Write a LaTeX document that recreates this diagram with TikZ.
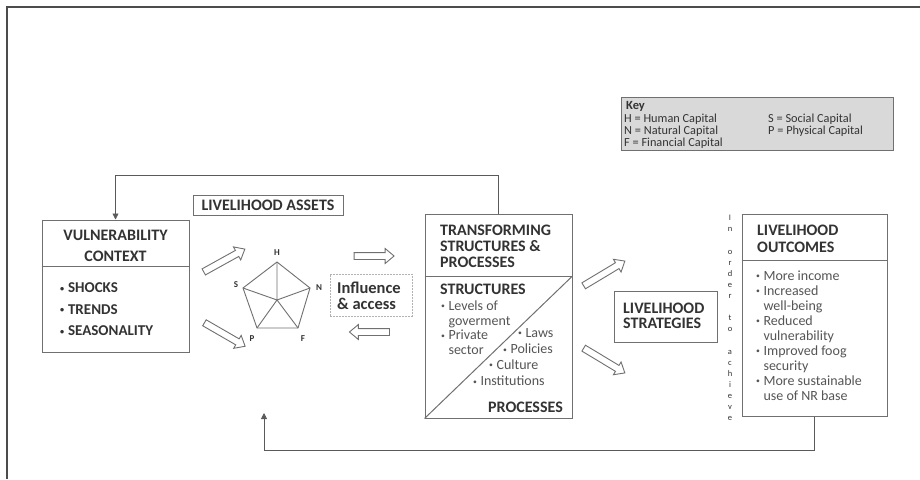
\documentclass[tikz,border=0pt]{standalone}
\usepackage{fontspec}
\usepackage{graphicx}
\setmainfont{Carlito}
\usetikzlibrary{arrows.meta,shapes.arrows,calc}
\definecolor{txt}{HTML}{333333}
\definecolor{txtl}{HTML}{555555}
\definecolor{bd}{HTML}{707070}
\newcommand\mybul{\raisebox{0.12em}{\scalebox{0.55}{•}}\hspace{0.25em}}
\newcommand\mybulsp{\hphantom{\mybul}}
\begin{document}
\begin{tikzpicture}[x=1pt,y=-1pt,
  box/.style={draw=bd, line width=1pt, inner sep=0pt, fill=white},
  ttl/.style={font=\bfseries\fontsize{16}{16}\selectfont, text=txt, inner sep=0pt, align=left},
  body/.style={font=\fontsize{14}{14.7}\selectfont, text=txtl, inner sep=0pt, align=left},
  keytxt/.style={font=\fontsize{12.3}{12}\selectfont, text=txt, inner sep=0pt, anchor=west},
  lbl/.style={font=\bfseries\fontsize{9}{9}\selectfont, text=txt, inner sep=0pt},
  conn/.style={draw=bd!80!black, line width=0.8pt},
  tipend/.style={-{Triangle[length=6pt,width=6pt]}},
  pent/.style={draw=bd, line width=0.9pt},
  hollow/.style={single arrow, draw=bd, line width=0.9pt, fill=white, inner sep=3pt,
     single arrow head extend=4pt, single arrow tip angle=80, minimum height=#1},
 ]
\fill[white] (0,0) rectangle (920,479);
\useasboundingbox (0,0) rectangle (920,479);
% frame
\draw[line width=2pt, black!70] (7,479) -- (7,6.5) -- (920,6.5);

% key
\node[draw=bd, fill=black!15, line width=1pt, minimum width=272pt, minimum height=53pt] (key) at (757,123.5) {};
\node[keytxt, font=\bfseries\fontsize{12.5}{12}\selectfont] (kk) at (626,106) {Key};
\node[keytxt] (k1) at (624,119) {H = Human Capital};
\node[keytxt] (k2) at (624,131) {N = Natural Capital};
\node[keytxt] (k3) at (624,143) {F = Financial Capital};
\node[keytxt] (k4) at (768,119) {S = Social Capital};
\node[keytxt] (k5) at (768,131) {P = Physical Capital};

% vulnerability context
\node[box, minimum width=147pt, minimum height=132pt] (vc) at (115.5,286) {};
\draw[draw=bd, line width=1pt] (vc.west |- 0,266) -- (vc.east |- 0,266);
\node[ttl, align=center, font=\bfseries\fontsize{16}{21}\selectfont] (vct) at (115.5,245.5) {VULNERABILITY\\CONTEXT};
\node[ttl, anchor=west, font=\bfseries\fontsize{15}{21.5}\selectfont] (vcb) at (60,309.5) {\mybul SHOCKS\\\mybul TRENDS\\\mybul SEASONALITY};

% livelihood assets
\node[box, minimum width=150pt, minimum height=20pt] (la) at (268,205) {};
\node[ttl] (lat) at (la.center) {LIVELIHOOD ASSETS};

% pentagon
\coordinate (pH) at (277,262);
\coordinate (pN) at (310,288);
\coordinate (pF) at (298,328);
\coordinate (pP) at (257,328);
\coordinate (pS) at (243,288);
\coordinate (pC) at (277,300);
\draw[pent] (pH) -- (pN) -- (pF) -- (pP) -- (pS) -- cycle;
\draw[pent] (pH) -- (pC) (pN) -- (pC) (pF) -- (pC) (pP) -- (pC) (pS) -- (pC);
\node[lbl] (lH) at (277,253) {H};
\node[lbl] (lN) at (319,288) {N};
\node[lbl] (lF) at (303,339) {F};
\node[lbl] (lP) at (252,339) {P};
\node[lbl] (lS) at (236,285) {S};

% hollow arrows
\node[hollow=47pt, rotate=29] (ha1) at (222.5,261.5) {};
\node[hollow=47pt, rotate=-30] (ha2) at (223,333.5) {};
\node[hollow=40pt] (ha3) at (372,256) {};
\node[hollow=40pt, rotate=180] (ha4) at (371.5,332) {};
\node[hollow=48pt, rotate=31] (ha5) at (602.5,274.5) {};
\node[hollow=48pt, rotate=-31] (ha6) at (602.5,359.5) {};

% influence & access
\node[draw=black!30, line width=0.8pt, dash pattern=on 2pt off 1pt, minimum width=82pt, minimum height=42pt] (ia) at (371,295) {};
\node[ttl, anchor=west, font=\bfseries\fontsize{16.5}{16}\selectfont] (iat) at (337,296) {Influence\\\& access};

% transforming structures & processes
\node[box, minimum width=147pt, minimum height=204pt] (tsp) at (498.5,316) {};
\draw[draw=bd, line width=1pt] (tsp.west |- 0,276) -- (tsp.east |- 0,276);
\draw[draw=bd, line width=1pt] (tsp.south west) -- (tsp.east |- 0,276);
\node[ttl, anchor=west] (tspt) at (440,246.5) {TRANSFORMING\\STRUCTURES \&\\PROCESSES};
\node[ttl, anchor=west] (st) at (440,289) {STRUCTURES};
\node[body, anchor=north west] (sl) at (441,300.5) {\mybul Levels of\\\mybulsp goverment\\\mybul Private\\\mybulsp sector};
\node[body, anchor=west] (p1) at (518,333) {\mybul Laws};
\node[body, anchor=west] (p2) at (503,349) {\mybul Policies};
\node[body, anchor=west] (p3) at (489,364.5) {\mybul Culture};
\node[body, anchor=west] (p4) at (473,381) {\mybul Institutions};
\node[ttl, anchor=east] (pr) at (563,407) {PROCESSES};

% livelihood strategies
\node[box, minimum width=103pt, minimum height=51pt] (ls) at (665.5,316.5) {};
\node[ttl, anchor=west, font=\bfseries\fontsize{16}{15}\selectfont] (lst) at (623,315.5) {LIVELIHOOD\\STRATEGIES};

% vertical text
\node[font=\fontsize{8.5}{11.1}\selectfont, text=txt, inner sep=0pt, align=center] (vt) at (730,318)
  {I\\n\\\mbox{}\\o\\r\\d\\e\\r\\\mbox{}\\t\\o\\\mbox{}\\a\\c\\h\\i\\e\\v\\e};

% livelihood outcomes
\node[box, minimum width=145pt, minimum height=202pt] (lo) at (814.5,315) {};
\draw[draw=bd, line width=1pt] (lo.west |- 0,260) -- (lo.east |- 0,260);
\node[ttl, anchor=west, font=\bfseries\fontsize{16}{17}\selectfont] (lot) at (757,238.5) {LIVELIHOOD\\OUTCOMES};
\node[body, anchor=north west, font=\fontsize{14}{15}\selectfont] (lob) at (756,270.5)
  {\mybul More income\\\mybul Increased\\\mybulsp well-being\\\mybul Reduced\\\mybulsp vulnerability\\\mybul Improved foog\\\mybulsp security\\\mybul More sustainable\\\mybulsp use of NR base};

% feedback connectors
\draw[conn, tipend] (tsp.north) -- (tsp.north |- 0,175) -| (vc.north);
\coordinate (ret) at (264,413);
\draw[conn, tipend] (lo.south) -- (lo.south |- 0,450) -| (ret);
\end{tikzpicture}
\end{document}
